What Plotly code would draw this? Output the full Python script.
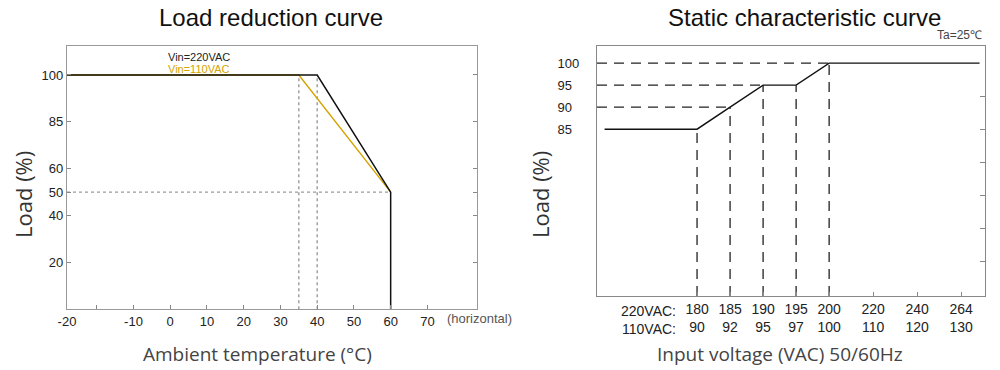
import numpy as np
import plotly.graph_objects as go

# ---------------- Data: Load reduction curve ----------------
TEMP_220 = [-20, 40, 60, 60]
LOAD_220 = [100, 100, 50, 0]
TEMP_110 = [-20, 35, 60]
LOAD_110 = [100, 100, 50]
TEMP_TICKS = [-20, -10, 0, 10, 20, 30, 40, 50, 60, 70]
LOAD_TICKS_L = [20, 40, 50, 60, 85, 100]
KNEE_TEMPS = [35, 40]
END_TEMP = 60
END_LOAD = 50

# ---------------- Data: Static characteristic curve ----------------
V220 = [180, 185, 190, 195, 200, 220, 240, 264]
V110 = [90, 92, 95, 97, 100, 110, 120, 130]
CURVE_V = [166, 180, 185, 190, 195, 200, 274]
CURVE_LOAD = [85, 85, 90, 95, 95, 100, 100]
LOAD_TICKS_R = [85, 90, 95, 100]
GUIDE_V = [180, 185, 190, 195, 200]
GUIDE_H = [(90, 185), (95, 190), (100, 200)]

# ---------------- Custom (non-linear) axis scales ----------------
def sx(t):
    # broken temperature axis: -20 sits at the left frame edge
    return np.interp(t, [-20, -10, 90], [-28.1, -10, 90])

def sy(v):
    return np.interp(v, [0, 20, 40, 50, 60, 85, 100], [0, 1, 2, 2.5, 3, 4, 5])

V_ANCH = [150] + V220 + [300]
V_POS = [-6, 0, 1, 2, 3, 4, 16 / 3, 20 / 3, 8, 10]

def sv(v):
    return np.interp(v, V_ANCH, V_POS)

XL_RANGE = [-28.1, 83.5]
YL_RANGE = [0, 5.625]
XR_RANGE = [-3.03, 8.72]
YR_RANGE = [47.1, 103.9]

FONT = "Liberation Sans, Arial, sans-serif"
LIGHT = "Open Sans, Noto Sans, sans-serif"
YELLOW = "#D4A300"
GUIDE = "#9a9a9a"

fig = go.Figure()

# ---- left chart guides
for t in KNEE_TEMPS:
    fig.add_trace(go.Scatter(x=sx([t, t]), y=sy([0, 100]), mode="lines",
                             line=dict(color=GUIDE, width=1.4, dash="dot"),
                             xaxis="x", yaxis="y", hoverinfo="skip"))
fig.add_trace(go.Scatter(x=sx([TEMP_TICKS[0], END_TEMP]), y=sy([END_LOAD, END_LOAD]), mode="lines",
                         line=dict(color=GUIDE, width=1.4, dash="dot"),
                         xaxis="x", yaxis="y", hoverinfo="skip"))
# ---- left chart curves
fig.add_trace(go.Scatter(x=sx(TEMP_110), y=sy(LOAD_110), mode="lines",
                         line=dict(color=YELLOW, width=1.4), xaxis="x", yaxis="y"))
fig.add_trace(go.Scatter(x=sx(TEMP_220), y=sy(LOAD_220), mode="lines",
                         line=dict(color="#111111", width=1.5), xaxis="x", yaxis="y"))

# ---- right chart guides
for load, v in GUIDE_H:
    fig.add_trace(go.Scatter(x=[XR_RANGE[0], sv(v)], y=[load, load], mode="lines",
                             line=dict(color="#222", width=1.3, dash="10px,7px"),
                             xaxis="x2", yaxis="y2", hoverinfo="skip"))
for v in GUIDE_V:
    ld = float(np.interp(v, CURVE_V, CURVE_LOAD))
    fig.add_trace(go.Scatter(x=[sv(v), sv(v)], y=[YR_RANGE[0], ld], mode="lines",
                             line=dict(color="#222", width=1.3, dash="10px,7px"),
                             xaxis="x2", yaxis="y2", hoverinfo="skip"))
fig.add_trace(go.Scatter(x=sv(CURVE_V), y=CURVE_LOAD, mode="lines",
                         line=dict(color="#111111", width=1.4), xaxis="x2", yaxis="y2"))

R_TICKS = [92.5, 85, 77.5, 70, 62.5, 55]
fig.add_trace(go.Scatter(x=[None], y=[None], xaxis="x2", yaxis="y3", hoverinfo="skip"))

axis_common = dict(showgrid=False, zeroline=False, showline=True, ticks="inside",
                   ticklen=4, tickwidth=1, tickcolor="#888", automargin=False)

fig.update_layout(
    width=1000, height=370,
    margin=dict(l=0, r=0, t=0, b=0, autoexpand=False),
    paper_bgcolor="white", plot_bgcolor="white",
    showlegend=False, hovermode=False,
    font=dict(family=FONT, color="#222", size=13),
    xaxis=dict(domain=[0.067, 0.477], range=XL_RANGE, anchor="y",
               tickvals=list(sx(TEMP_TICKS)) + [-20],
               ticktext=[str(t) for t in TEMP_TICKS] + [""],
               linecolor="#999", linewidth=1.2, mirror=True,
               tickfont=dict(size=13, color="#222"), **axis_common),
    yaxis=dict(domain=[0.164, 0.8765], range=YL_RANGE, anchor="x",
               tickvals=list(sy(LOAD_TICKS_L)), ticktext=[str(v) for v in LOAD_TICKS_L],
               linecolor="#999", linewidth=1.2, mirror="ticks",
               tickfont=dict(size=13, color="#222"), **axis_common),
    xaxis2=dict(domain=[0.597, 0.985], range=XR_RANGE, anchor="y2",
                tickvals=list(sv(V220)),
                ticktext=[f"{a}<br>{b}" for a, b in zip(V220, V110)],
                linecolor="#888", linewidth=1.2, mirror=True,
                tickfont=dict(size=14, color="#222"), **axis_common),
    yaxis2=dict(domain=[0.2, 0.8757], range=YR_RANGE, anchor="x2",
                tickvals=LOAD_TICKS_R,
                ticktext=[str(v) if v >= 100 else f"{v}\u2007" for v in LOAD_TICKS_R],
                showgrid=False, zeroline=False, showline=True, ticks="",
                ticklabelstandoff=14, automargin=False,
                linecolor="#888", linewidth=1.2, mirror=True,
                tickfont=dict(size=13, color="#222")),
    yaxis3=dict(overlaying="y2", anchor="x2", side="right", range=YR_RANGE,
                tickvals=R_TICKS, showticklabels=False, showgrid=False, zeroline=False,
                showline=False, ticks="inside", ticklen=5, tickcolor="#888", automargin=False),
)

ann = [
    dict(text="Load reduction curve", x=0.271, y=0.952, font=dict(size=24, color="#111")),
    dict(text="Static characteristic curve", x=0.804, y=0.952, font=dict(size=24, color="#111")),
    dict(text="Load (%)", x=0.023, y=0.473, textangle=-90, font=dict(family=LIGHT, size=22, color="#333")),
    dict(text="Load (%)", x=0.540, y=0.473, textangle=-90, font=dict(family=LIGHT, size=22, color="#333")),
    dict(text="Ambient temperature (°C)", x=0.257, y=0.043, font=dict(family=LIGHT, size=19, color="#444")),
    dict(text="Input voltage (VAC) 50/60Hz", x=0.7795, y=0.043, font=dict(family=LIGHT, size=19, color="#444")),
    dict(text="(horizontal)", x=0.445, y=0.1405, xanchor="left", font=dict(size=13, color="#555")),
    dict(text="Vin=220VAC", x=0.166, y=0.8468, xanchor="left", font=dict(size=11, color="#222")),
    dict(text="Vin=110VAC", x=0.166, y=0.8135, xanchor="left", font=dict(size=11, color=YELLOW)),
    dict(text="Ta=25\u2103", x=0.984, y=0.905, xanchor="right", font=dict(size=12, color="#444")),
    dict(text="220VAC:<br>110VAC:", x=0.678, y=0.135, xanchor="right", align="right",
         font=dict(size=14, color="#222")),
]
for a in ann:
    base = dict(xref="paper", yref="paper", showarrow=False, xanchor="center", yanchor="middle")
    base.update(a)
    fig.add_annotation(**base)

fig.write_html("out.html", config={"displayModeBar": False},
               post_script="document.body.style.margin='0';document.body.style.padding='0';")
